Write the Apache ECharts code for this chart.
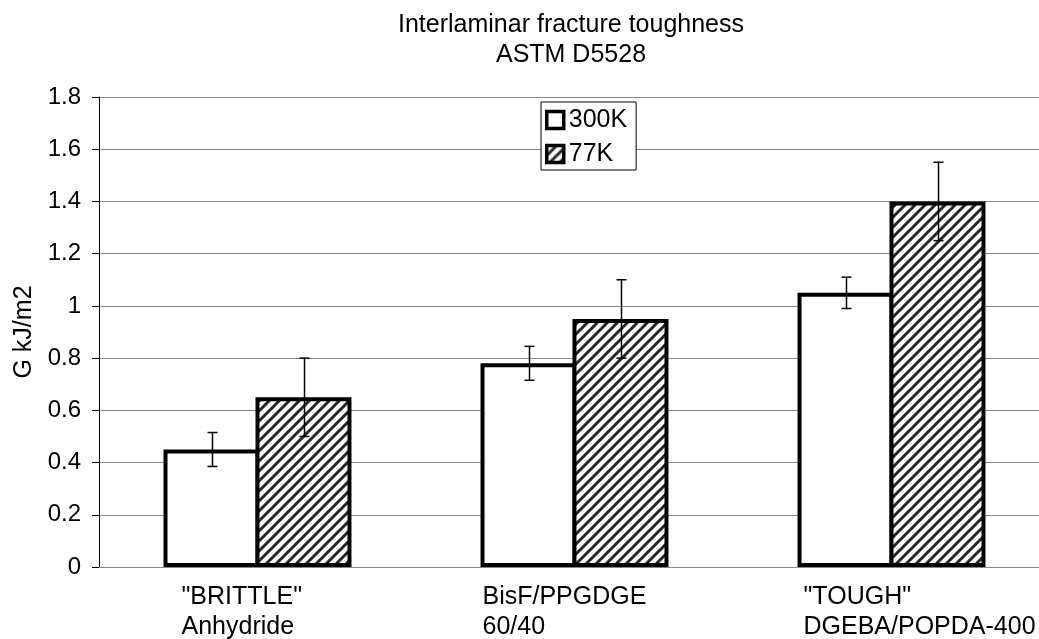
<!DOCTYPE html>
<html lang="en">
<head>
    <meta charset="UTF-8">
    <title>Interlaminar fracture toughness</title>
    <script type="text/javascript" src="https://cdn.jsdelivr.net/npm/echarts@6/dist/echarts.min.js"></script>
    <style>
        html, body { margin: 0; padding: 0; background: #fff; }
        #echart { width: 1039px; height: 639px; }
    </style>
</head>
<body>
    <div id="echart"></div>
<script type="text/javascript">
    // data
    var categories = ['"BRITTLE"\nAnhydride', 'BisF/PPGDGE\n60/40', '"TOUGH"\nDGEBA/POPDA-400'];
    var seriesNames = ['300K', '77K'];
    var g300 = [0.45, 0.78, 1.05];
    var err300 = [0.065, 0.065, 0.06];
    var g77 = [0.65, 0.95, 1.40];
    var err77 = [0.15, 0.15, 0.15];
    var yTicks = [0, 0.2, 0.4, 0.6, 0.8, 1, 1.2, 1.4, 1.6, 1.8];

    var font = 'Liberation Sans, Arial, sans-serif';
    var barW = 96;

    // diagonal hatch for the 77K bars
    function hatch() {
        var c = document.createElement('canvas');
        c.width = 10; c.height = 10;
        var x = c.getContext('2d');
        x.fillStyle = '#fff';
        x.fillRect(0, 0, 10, 10);
        x.strokeStyle = '#262626';
        x.lineWidth = 3;
        x.beginPath();
        x.moveTo(-5, 5); x.lineTo(5, -5);
        x.moveTo(0, 10); x.lineTo(10, 0);
        x.moveTo(5, 15); x.lineTo(15, 5);
        x.stroke();
        return c;
    }
    var hatchFill = { image: hatch(), repeat: 'repeat' };

    function errData(vals, errs) {
        var out = [];
        for (var i = 0; i < vals.length; i++) {
            out.push([i, vals[i] - errs[i], vals[i] + errs[i]]);
        }
        return out;
    }

    function errRender(offset) {
        return function (params, api) {
            var lo = api.coord([api.value(0), api.value(1)]);
            var hi = api.coord([api.value(0), api.value(2)]);
            var x = Math.round(lo[0] + offset) + 0.5;
            var st = { stroke: '#000', lineWidth: 1.5 };
            return {
                type: 'group',
                children: [
                    { type: 'line', shape: { x1: x, y1: lo[1], x2: x, y2: hi[1] }, style: st },
                    { type: 'line', shape: { x1: x - 5, y1: lo[1], x2: x + 5, y2: lo[1] }, style: st },
                    { type: 'line', shape: { x1: x - 5, y1: hi[1], x2: x + 5, y2: hi[1] }, style: st }
                ]
            };
        };
    }

    var labelWidths = [152, 184, 176];
    var rich = {};
    for (var k = 0; k < labelWidths.length; k++) {
        rich['c' + k] = { width: labelWidths[k], align: 'left', fontSize: 25, lineHeight: 30, color: '#000', fontFamily: font };
    }

    var option = {
        animation: false,
        backgroundColor: '#fff',
        title: {
            text: 'Interlaminar fracture toughness\nASTM D5528',
            left: 566,
            textAlign: 'center',
            top: 5,
            textStyle: { fontSize: 25, fontWeight: 'normal', color: '#000', fontFamily: font, lineHeight: 30 }
        },
        legend: {
            data: seriesNames,
            orient: 'vertical',
            left: 541,
            top: 102,
            padding: [4, 9, 2, 4],
            itemGap: 6,
            itemWidth: 17,
            itemHeight: 17,
            icon: 'rect',
            backgroundColor: '#fff',
            borderColor: '#000',
            borderWidth: 1,
            borderRadius: 0,
            itemStyle: { borderColor: '#000', borderWidth: 3.5 },
            textStyle: { fontSize: 25, lineHeight: 28, color: '#000', fontFamily: font }
        },
        grid: { left: 99, top: 97, width: 951, height: 470, outerBoundsMode: 'none' },
        xAxis: {
            type: 'category',
            data: categories,
            axisLine: { lineStyle: { color: '#868686', width: 1 } },
            axisTick: { show: false },
            axisLabel: {
                margin: 15,
                formatter: function (value, idx) {
                    var parts = value.split('\n');
                    return parts.map(function (p) { return '{c' + idx + '|' + p + '}'; }).join('\n');
                },
                rich: rich
            }
        },
        yAxis: {
            type: 'value',
            min: 0,
            max: 1.8,
            interval: 0.2,
            name: 'G kJ/m2',
            nameLocation: 'middle',
            nameGap: 61,
            nameTextStyle: { fontSize: 25, color: '#000', fontFamily: font },
            axisLine: { show: true, lineStyle: { color: '#000', width: 1 } },
            axisTick: { show: true, length: 7, lineStyle: { color: '#000' } },
            axisLabel: {
                margin: 18,
                fontSize: 24,
                color: '#000',
                fontFamily: font,
                formatter: function (v) {
                    for (var i = 0; i < yTicks.length; i++) {
                        if (Math.abs(yTicks[i] - v) < 1e-6) return String(yTicks[i]);
                    }
                    return '';
                }
            },
            splitLine: { show: true, lineStyle: { color: '#868686', width: 1 } }
        },
        series: [
            {
                name: '300K',
                type: 'bar',
                data: g300,
                barWidth: barW,
                barGap: '-4.2%',
                itemStyle: { color: '#fff', borderColor: '#000', borderWidth: 4 }
            },
            {
                name: '77K',
                type: 'bar',
                data: g77,
                barWidth: barW,
                barGap: '-4.2%',
                itemStyle: { color: hatchFill, borderColor: '#000', borderWidth: 4 }
            },
            {
                type: 'custom',
                name: 'err300',
                data: errData(g300, err300),
                renderItem: errRender(-(barW - 4) / 2),
                z: 10
            },
            {
                type: 'custom',
                name: 'err77',
                data: errData(g77, err77),
                renderItem: errRender((barW - 4) / 2),
                z: 10
            }
        ]
    };

    var myChart = echarts.init(document.getElementById('echart'));
    myChart.setOption(option);
</script>
</body>
</html>
